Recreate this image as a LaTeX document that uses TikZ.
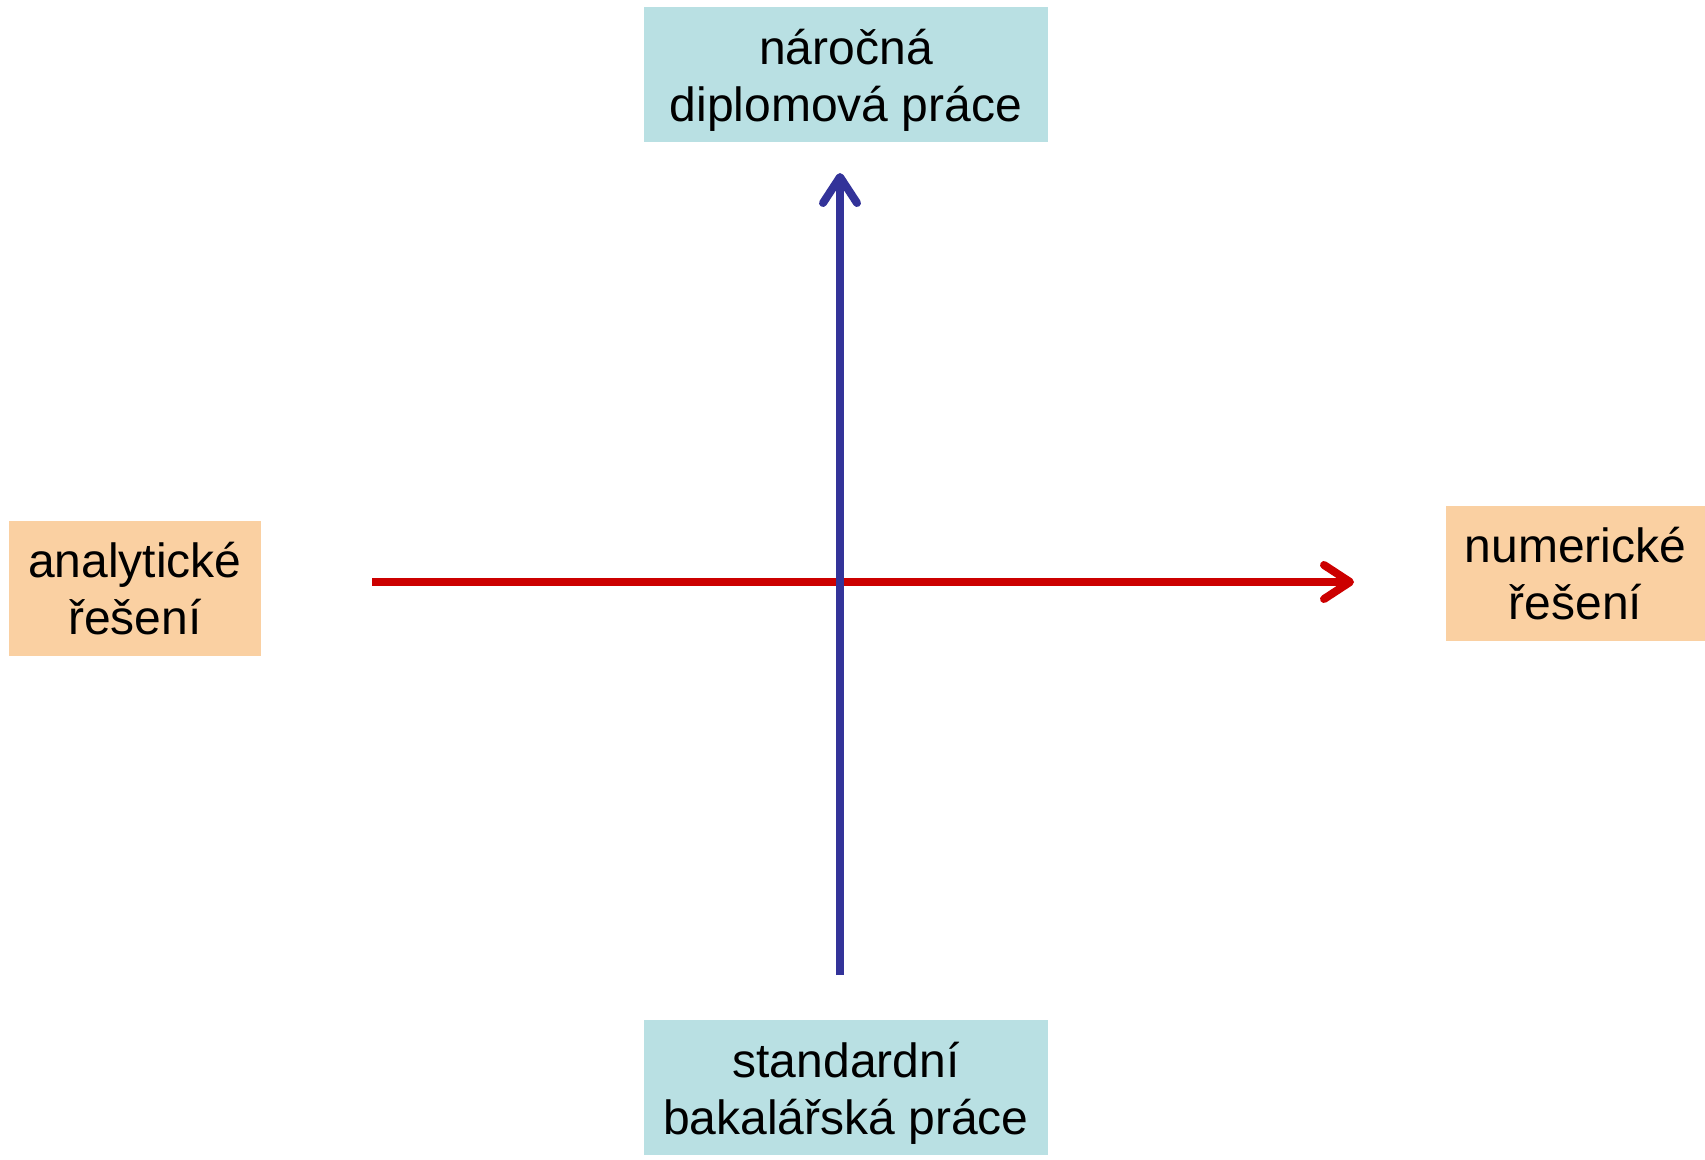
\documentclass[tikz,border=0pt]{standalone}
\usepackage{fontspec}
\setmainfont{Liberation Sans}
\usetikzlibrary{arrows.meta}
\definecolor{boxcyan}{HTML}{B9E0E3}
\definecolor{boxorange}{HTML}{FAD0A2}
\definecolor{axblue}{HTML}{333399}
\definecolor{axred}{HTML}{CC0000}
\begin{document}
\begin{tikzpicture}[x=1pt,y=-1pt,
  lbl/.style={inner sep=0pt,align=center,font=\fontsize{48}{57}\selectfont},
  cyanbox/.style={inner sep=0pt,fill=boxcyan,minimum width=404pt,minimum height=135pt},
  orangebox/.style={lbl,fill=boxorange,minimum width=255pt,minimum height=135pt},
  axis/.style={line width=8pt,-{Straight Barb[length=26pt,width=34pt,round]}}]
\useasboundingbox (0,0) rectangle (1705,1159);
\node[cyanbox] (top) at (846,74.4) {};
\node[lbl] (toptext) at ([yshift=-6pt]top.center) {náročná\\diplomová práce};
\node[cyanbox] (bot) at (846,1087.4) {};
\node[lbl] (bottext) at ([yshift=-6pt]bot.center) {standardní\\bakalářská práce};
\node[orangebox,minimum width=252pt] (left) at (135,588.5) {analytické\\řešení};
\node[orangebox,minimum width=259pt] (right) at (1575.5,573.3) {numerické\\řešení};
\coordinate (vs) at (840,975);
\coordinate (ve) at (840,173);
\coordinate (hs) at (372,582);
\coordinate (he) at (1354,582);
\draw[axis,axred] (hs) -- (he);
\draw[axis,axblue] (vs) -- (ve);
\end{tikzpicture}
\end{document}
